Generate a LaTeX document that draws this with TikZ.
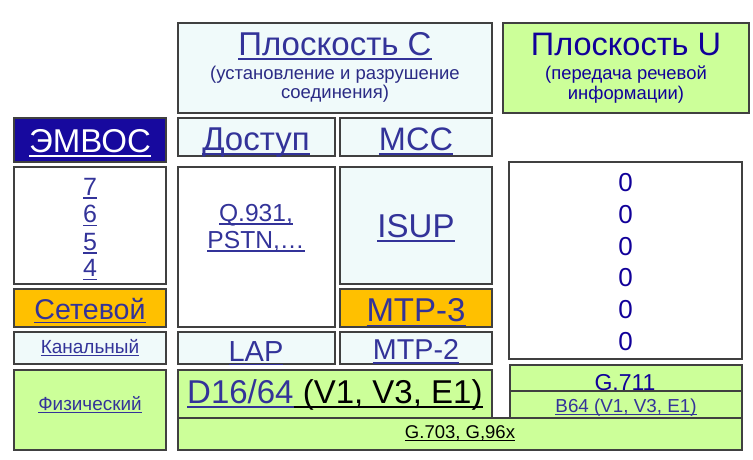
\documentclass[tikz,border=0pt]{standalone}
\usepackage{fontspec}
\setmainfont{Liberation Sans}
\definecolor{bordc}{HTML}{404040}
\definecolor{cyanf}{HTML}{F0FAFA}
\definecolor{greenf}{HTML}{CCFF99}
\definecolor{orangef}{HTML}{FFC000}
\definecolor{emvosf}{HTML}{17099E}
\definecolor{linkc}{HTML}{333399}
\definecolor{subc}{HTML}{2B2B85}
\definecolor{bluet}{HTML}{110099}
\newcommand{\uln}[1]{\setbox0\hbox{#1}\rlap{\copy0}\rule[-0.15em]{\wd0}{0.055em}}
\newcommand{\fs}[1]{\fontsize{#1}{#1}\selectfont}
\tikzset{
  box/.style={draw=bordc, line width=1.1pt, inner sep=0pt},
  cyanbox/.style={box, fill=cyanf},
  whitebox/.style={box, fill=white},
  greenbox/.style={box, fill=greenf},
  orangebox/.style={box, fill=orangef},
  txt/.style={anchor=base, inner sep=0pt, text=linkc},
}
\begin{document}
\begin{tikzpicture}[x=1pt,y=-1pt]
\useasboundingbox (0,0) rectangle (753,459);
% boxes
\node[cyanbox, minimum width=314, minimum height=90] (planeC) at (335,68) {};
\node[greenbox, minimum width=246, minimum height=90] (planeU) at (626,68) {};
\node[box, fill=emvosf, minimum width=152, minimum height=44] (emvos) at (90,140) {};
\node[cyanbox, minimum width=157, minimum height=38] (dostup) at (256.5,137) {};
\node[cyanbox, minimum width=152, minimum height=38] (mcc) at (416,137) {};
\node[whitebox, minimum width=152, minimum height=117] (osi) at (90,225.5) {};
\node[whitebox, minimum width=157, minimum height=160] (q931) at (256.5,247) {};
\node[cyanbox, minimum width=152, minimum height=117] (isup) at (416,225.5) {};
\node[orangebox, minimum width=152, minimum height=38] (net) at (90,308) {};
\node[orangebox, minimum width=152, minimum height=38] (mtp3) at (416,308) {};
\node[cyanbox, minimum width=152, minimum height=32] (kan) at (90,348) {};
\node[cyanbox, minimum width=157, minimum height=32] (lap) at (256.5,348) {};
\node[cyanbox, minimum width=152, minimum height=32] (mtp2) at (416,348) {};
\node[whitebox, minimum width=233, minimum height=197] (zeros) at (625.5,260.5) {};
\node[greenbox, minimum width=152, minimum height=80] (fiz) at (90,410) {};
\node[greenbox, minimum width=314, minimum height=48] (d16) at (335,394) {};
\node[greenbox, minimum width=564, minimum height=32] (g703) at (460,434) {};
\node[greenbox, minimum width=232, minimum height=26] (g711) at (626,378) {};
\node[txt, text=bluet] (tG711) at (625,390) {\fs{23}G.711};
\node[greenbox, minimum width=232, minimum height=27] (b64) at (626,404.5) {};
% texts
\node[txt] (tC) at (335,55) {\fs{33}\uln{Плоскость C}};
\node[txt, text=subc] (tC1) at (335,79) {\fs{18.5}(установление и разрушение};
\node[txt, text=subc] (tC2) at (335,98) {\fs{18.5}соединения)};
\node[txt, text=bluet] (tU) at (626,55) {\fs{32.5}Плоскость U};
\node[txt, text=bluet] (tU1) at (626,79) {\fs{18.4}(передача речевой};
\node[txt, text=bluet] (tU2) at (626,99) {\fs{18.4}информации)};
\node[txt, text=white] (tE) at (90,152) {\fs{33}\uln{ЭМВОС}};
\node[txt] (tD) at (256,150) {\fs{33}\uln{Доступ}};
\node[txt] (tM) at (416,150) {\fs{32.5}\uln{МСС}};
\node[txt] (t7) at (90,195) {\fs{25}\uln{7}};
\node[txt] (t6) at (90,222.7) {\fs{25}\uln{6}};
\node[txt] (t5) at (90,250) {\fs{25}\uln{5}};
\node[txt] (t4) at (90,276.7) {\fs{25}\uln{4}};
\node[txt] (tQ1) at (256,221) {\fs{24.6}\uln{Q.931,}};
\node[txt] (tQ2) at (256,248) {\fs{24.6}\uln{PSTN,\ldots}};
\node[txt] (tI) at (416,237) {\fs{33}\uln{ISUP}};
\node[txt] (tS) at (90,319) {\fs{28.6}\uln{Сетевой}};
\node[txt] (tM3) at (416,321.5) {\fs{33}\uln{MTP-3}};
\node[txt] (tK) at (90,353) {\fs{19}\uln{Канальный}};
\node[txt] (tL) at (256,361) {\fs{29}\uln{LAP}};
\node[txt] (tM2) at (416,359.5) {\fs{28.7}\uln{MTP-2}};
\foreach \i/\yy in {1/191,2/223.3,3/255,4/286.7,5/318.3,6/350}
  \node[txt, text=bluet] (z\i) at (625.7,\yy) {\fs{26}0};
\node[txt] (tF) at (90,410) {\fs{18.9}\uln{Физический}};
\node[txt, anchor=base west] (tD16) at (187,403.3) {\fs{33}\uln{D16/64}\color{black}\uln{ (V1, V3, E1)}};
\node[txt] (tB64) at (626,412.3) {\fs{18.8}\uln{B64 (V1, V3, E1)}};
\node[txt, text=black] (tG703) at (460,438.3) {\fs{18.5}\uln{G.703, G,96x}};
\end{tikzpicture}
\end{document}
